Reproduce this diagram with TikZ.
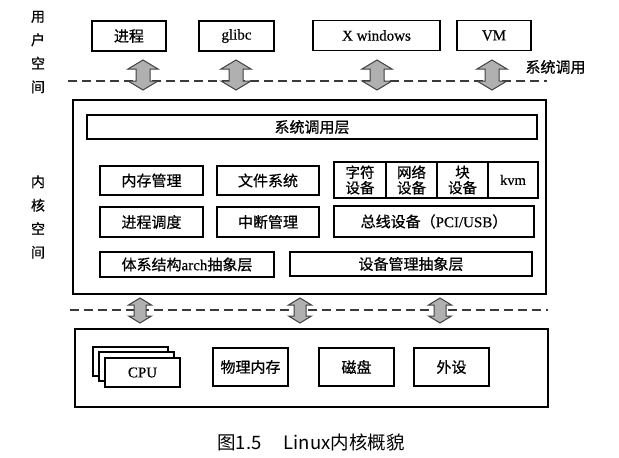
\documentclass[tikz,border=0pt]{standalone}
\usepackage{fontspec}
\setmainfont{Liberation Serif}[FakeBold=0.4]
\newfontfamily\cjkc{Noto Sans CJK SC}
\newfontfamily\cjk{Noto Sans CJK SC}[FakeBold=0.7]
\definecolor{arrfill}{HTML}{B0B0B0}
\definecolor{arrline}{HTML}{404040}
\definecolor{dashcol}{HTML}{3A3A3A}
\newcommand\dblarr[6]{% cx, ytop, ybot, headw, shaftw, headh
  \draw[blockarr] ({#1-#4/2},{#2+#6}) -- (#1,#2) -- ({#1+#4/2},{#2+#6}) -- ({#1+#5/2},{#2+#6})
    -- ({#1+#5/2},{#3-#6}) -- ({#1+#4/2},{#3-#6}) -- (#1,#3) -- ({#1-#4/2},{#3-#6})
    -- ({#1-#5/2},{#3-#6}) -- ({#1-#5/2},{#2+#6}) -- cycle;}
\begin{document}
\begin{tikzpicture}[x=1pt,y=-1pt,
  box/.style={draw,line width=1.2pt,inner sep=0pt,font=\fontsize{15}{16}\selectfont},
  outer/.style={draw,line width=1.3pt,inner sep=0pt},
  blockarr/.style={draw=arrline,fill=arrfill,line width=1pt,line join=miter},
  sep/.style={draw=dashcol,line width=1.2pt,dash pattern=on 9pt off 5pt},
  side/.style={inner sep=0pt,align=center,font=\fontsize{14}{23.5}\selectfont\cjk},
  cell/.style={box,minimum height=36pt,align=center,font=\fontsize{14.5}{15.5}\selectfont}]
\useasboundingbox (0,0) rectangle (619,458);

% side labels
\node[side] (us) at (38,52) {用\\户\\空\\间};
\node[side] (ks) at (38,217) {内\\核\\空\\间};

% user space boxes
\node[box,minimum width=74pt,minimum height=30pt] (p) at (129,36) {\cjk 进程};
\node[box,minimum width=75pt,minimum height=30pt] (g) at (236.5,36) {glibc};
\node[box,minimum width=127pt,minimum height=30pt] (x) at (376.5,35.5) {X windows};
\node[box,minimum width=74pt,minimum height=30pt] (vm) at (494,35.5) {VM};

% separators
\coordinate (d1a) at (68,81); \coordinate (d1b) at (547,81);
\coordinate (d2a) at (70,310); \coordinate (d2b) at (548,310);
\draw[sep] (d1a) -- (d1b);
\draw[sep] (d2a) -- (d2b);
\node[inner sep=0pt,font=\fontsize{15}{16}\selectfont\cjk] (sc) at (555.5,67) {系统调用};

% kernel
\node[outer,minimum width=473pt,minimum height=194pt] (k) at (309.5,197) {};
\node[box,minimum width=450pt,minimum height=24pt] (scl) at (312,127) {\cjk 系统调用层};
\node[box,minimum width=103pt,minimum height=29pt] (mm) at (151.5,180.5) {\cjk 内存管理};
\node[box,minimum width=102pt,minimum height=29pt] (fs) at (268,180.5) {\cjk 文件系统};
\node[box,minimum width=103pt,minimum height=30pt] (ps) at (151.5,222) {\cjk 进程调度};
\node[box,minimum width=102pt,minimum height=30pt] (irq) at (268,222) {\cjk 中断管理};
\node[box,minimum width=174pt,minimum height=25pt] (arch) at (187,264.5) {{\cjk 体系结构}arch{\cjk 抽象层}};
\node[box,minimum width=242pt,minimum height=24pt] (dm) at (411,264) {\cjk 设备管理抽象层};
\node[cell,minimum width=52pt] (cd) at (360,180) {\cjk 字符\\\cjk 设备};
\node[cell,minimum width=51pt] (nd) at (411.5,180) {\cjk 网络\\\cjk 设备};
\node[cell,minimum width=51pt] (bd) at (462.5,180) {\cjk 块\\\cjk 设备};
\node[cell,minimum width=50pt] (kvm) at (513,180) {kvm};
\node[box,minimum width=200pt,minimum height=31pt] (bus) at (434,221.5) {{\cjk 总线设备（}PCI/USB{\cjk ）}};

% hardware
\node[outer,minimum width=473pt,minimum height=78pt] (hw) at (311.5,368) {};
\node[box,fill=white,minimum width=75pt,minimum height=29pt] (cpu3) at (130.5,361.5) {};
\node[box,fill=white,minimum width=75pt,minimum height=29pt] (cpu2) at (136.5,366.5) {};
\node[box,fill=white,minimum width=75pt,minimum height=29pt] (cpu) at (142.5,372.5) {CPU};
\node[box,minimum width=75pt,minimum height=38pt] (pm) at (250.5,367) {\cjk 物理内存};
\node[box,minimum width=75pt,minimum height=38pt] (disk) at (356.5,367) {\cjk 磁盘};
\node[box,minimum width=75pt,minimum height=38pt] (per) at (451.5,367) {\cjk 外设};

% block arrows
\dblarr{143}{60}{90}{30}{14}{9}
\dblarr{236}{60}{90}{30}{14}{9}
\dblarr{377}{60}{90}{30}{14}{9}
\dblarr{492}{60}{90}{30}{14}{9}
\dblarr{140}{298}{323}{23}{12}{7}
\dblarr{300}{298}{323}{23}{12}{7}
\dblarr{440}{298}{323}{23}{12}{7}

% caption
\node[inner sep=0pt,font=\fontsize{18.5}{20}\selectfont\cjkc] (cap) at (311,442) {图1.5\hspace{22pt}Linux内核概貌};
\end{tikzpicture}
\end{document}
